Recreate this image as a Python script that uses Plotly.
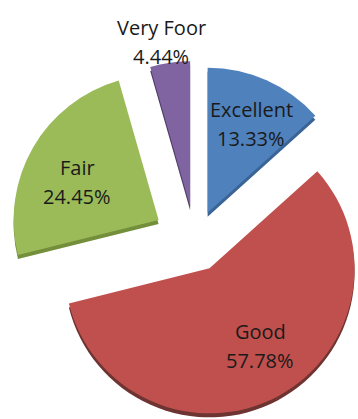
import math
import plotly.graph_objects as go

# Survey rating shares (percent)
categories = ["Excellent", "Good", "Fair", "Very Foor"]
shares = [13.33, 57.78, 24.45, 4.44]

# Styling
slice_colors = ["#4F81BD", "#C0504D", "#9BBB59", "#8064A2"]
rim_colors = ["#3A6496", "#6E3432", "#738F3C", "#4E3C66"]

W, H = 358, 419
RADIUS = 145                 # pie radius in px
CENTER = (195, 241)          # un-exploded pie centre in px (from top-left)
EXPLODE = [31, 31, 42, 35]   # how far each slice is pulled out, px
RIM = (0, 4)                 # offset of the darker edge under each slice, px
# label placement relative to each slice tip: (distance px, angle deg clockwise from 12 o'clock)
LABEL_OFFSETS = [(99, 26), (93, 147), (90, 295), (167, 350)]
LINE_GAP = 29

total = sum(shares)
mids = []
acc = 0.0
for v in shares:
    a0 = acc / total * 360.0
    a1 = (acc + v) / total * 360.0
    mids.append((a0 + a1) / 2)
    acc += v


def unit(deg):
    r = math.radians(deg)
    return math.sin(r), -math.cos(r)


def domain_for(cx, cy):
    """Domain whose pie (no pull) has its centre at pixel (cx, cy) and radius RADIUS."""
    hw, hh = RADIUS / W, RADIUS / H
    fx, fy = cx / W, 1 - cy / H
    return dict(x=[fx - hw, fx + hw], y=[fy - hh, fy + hh])


fig = go.Figure()
tips = []
for i in range(len(shares)):
    ux, uy = unit(mids[i])
    tips.append((CENTER[0] + EXPLODE[i] * ux, CENTER[1] + EXPLODE[i] * uy))

# one trace per visible slice, drawn as darker rim first then the face
for layer in ("rim", "face"):
    for i in range(len(shares)):
        tx, ty = tips[i]
        if layer == "rim":
            tx, ty = tx + RIM[0], ty + RIM[1]
            col = rim_colors[i]
        else:
            col = slice_colors[i]
        colors = ["rgba(0,0,0,0)"] * len(shares)
        colors[i] = col
        fig.add_trace(go.Pie(
            labels=categories,
            values=shares,
            sort=False,
            direction="clockwise",
            rotation=0,
            marker=dict(colors=colors, line=dict(width=0)),
            textinfo="none",
            hoverinfo="skip",
            showlegend=False,
            domain=domain_for(tx, ty),
        ))

# category and percentage labels
font = dict(family="Open Sans, sans-serif", size=20, color="#1a1a1a")
for i, (name, val) in enumerate(zip(categories, shares)):
    dist, ang = LABEL_OFFSETS[i]
    ux, uy = unit(ang)
    lx = tips[i][0] + dist * ux
    ly = tips[i][1] + dist * uy
    for text, dy in ((name, -LINE_GAP / 2), (f"{val:.2f}%", LINE_GAP / 2)):
        fig.add_annotation(
            x=lx / W, y=1 - (ly + dy) / H, xref="paper", yref="paper",
            text=text, showarrow=False, font=font,
            xanchor="center", yanchor="middle",
        )

fig.update_layout(
    width=W, height=H,
    margin=dict(l=0, r=0, t=0, b=0),
    paper_bgcolor="white",
    plot_bgcolor="white",
)

fig.write_html("out.html")
